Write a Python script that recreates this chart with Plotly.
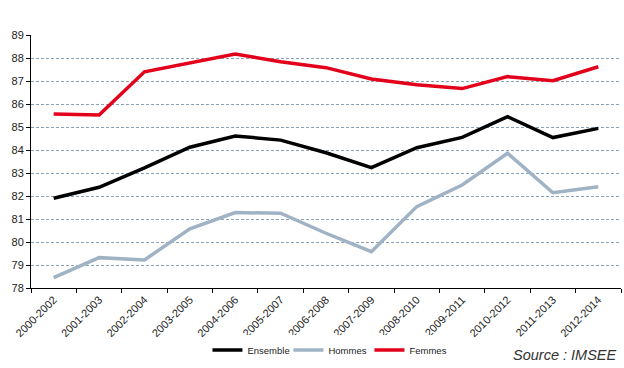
import plotly.graph_objects as go

categories = ["2000-2002", "2001-2003", "2002-2004", "2003-2005", "2004-2006", "2005-2007",
              "2006-2008", "2007-2009", "2008-2010", "2009-2011", "2010-2012", "2011-2013", "2012-2014"]
ensemble = [81.9, 82.38, 83.22, 84.12, 84.61, 84.43, 83.88, 83.23, 84.1, 84.55, 85.45, 84.54, 84.94]
hommes = [78.45, 79.32, 79.22, 80.57, 81.28, 81.25, 80.38, 79.58, 81.54, 82.48, 83.86, 82.14, 82.4]
femmes = [85.57, 85.52, 87.4, 87.8, 88.17, 87.84, 87.58, 87.09, 86.84, 86.67, 87.19, 87.01, 87.62]
y_ticks = list(range(78, 90))

fig = go.Figure()
series = [("Ensemble", ensemble, "#000000"), ("Hommes", hommes, "#9FB3C4"), ("Femmes", femmes, "#E3001B")]
for name, vals, col in series:
    fig.add_trace(go.Scatter(x=categories, y=vals, mode="lines", name=name,
                             line=dict(color=col, width=3.5)))

fig.update_layout(
    width=624, height=368,
    margin=dict(l=31, r=3, t=35, b=80),
    paper_bgcolor="white", plot_bgcolor="white",
    font=dict(family="Liberation Sans, Arial", size=11, color="#222"),
    showlegend=True,
    legend=dict(orientation="h", x=0.505, xanchor="center", y=-0.245, yanchor="middle",
                font=dict(size=9.5), itemwidth=30, tracegroupgap=0,
                entrywidth=36, entrywidthmode="pixels"),
    xaxis=dict(type="category", range=[-0.5, 12.5], tickangle=-45, showline=True,
               linecolor="black", linewidth=1, ticks="outside", ticklen=4, tickcolor="black",
               tickson="boundaries", showgrid=False, zeroline=False, automargin=False,
               tickfont=dict(size=11)),
    yaxis=dict(range=[78, 89], tickvals=y_ticks, showline=True, linecolor="black", linewidth=1,
               ticks="outside", ticklen=4, tickcolor="black", showgrid=True,
               gridcolor="#8AA2B6", griddash="3px,2px", gridwidth=1, zeroline=False,
               automargin=False, tickfont=dict(size=11)),
    annotations=[dict(text="<i>Source : IMSEE</i>", xref="paper", yref="paper", x=0.995, y=-0.265,
                      xanchor="right", yanchor="middle", showarrow=False,
                      font=dict(size=14.5, color="#333"))],
)

fig.write_html("out.html", config={"displayModeBar": False},
               post_script="document.body.style.margin='0';document.body.style.overflow='hidden';")
